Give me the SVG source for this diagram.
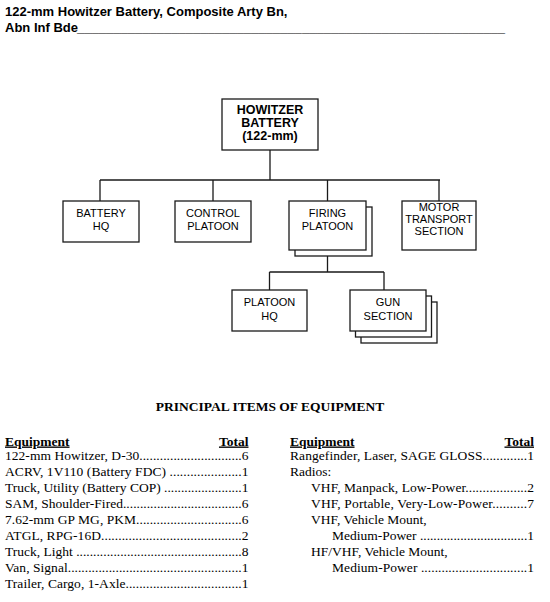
<svg xmlns="http://www.w3.org/2000/svg" width="550" height="602" viewBox="0 0 550 602">
<style>
.box{fill:#fff;stroke:#1a1a1a;stroke-width:1.3}
.ln{fill:none;stroke:#1a1a1a;stroke-width:1.3}
.hd{font-family:"Liberation Sans",Arial,sans-serif;font-weight:bold;font-size:13px;fill:#000}
.bt{font-family:"Liberation Sans",Arial,sans-serif;font-weight:bold;font-size:12.5px;text-anchor:middle;fill:#000}
.nt{font-family:"Liberation Sans",Arial,sans-serif;font-size:11px;text-anchor:middle;fill:#000}
.tt{font-family:"Liberation Serif","Times New Roman",serif;font-weight:bold;font-size:13.5px;fill:#000}
.tb{font-family:"Liberation Serif","Times New Roman",serif;font-size:13.5px;fill:#000}
.ul{text-decoration:underline}
</style>
<g id="heading">
<text class="hd" x="5" y="16">122-mm Howitzer Battery, Composite Arty Bn,</text>
<text class="hd" x="5" y="32">Abn Inf Bde</text>
<text class="hd" x="77" y="32" textLength="428" lengthAdjust="spacingAndGlyphs">___________________________________________________________</text>
</g>
<g id="connectors">
<path class="ln" d="M270 150V180M100 180H440M100 180V201M213 180V201M327.5 180V201M439 180V201M327.5 256V272M269.5 272H384M269.5 272V290M384 272V290"/>
</g>
<g id="n-battery">
<rect class="box" x="222" y="99" width="96" height="51"/>
<text class="bt" x="270" y="114">HOWITZER</text>
<text class="bt" x="270" y="127">BATTERY</text>
<text class="bt" x="270" y="140">(122-mm)</text>
</g>
<g id="n-hq">
<rect class="box" x="63" y="201" width="76" height="41"/>
<text class="nt" x="101" y="217">BATTERY</text>
<text class="nt" x="101" y="230">HQ</text>
</g>
<g id="n-control">
<rect class="box" x="175" y="201" width="76" height="41"/>
<text class="nt" x="213" y="217">CONTROL</text>
<text class="nt" x="213" y="230">PLATOON</text>
</g>
<g id="n-firing">
<rect class="box" x="295" y="207" width="77" height="49"/>
<rect class="box" x="289" y="201" width="77" height="49"/>
<text class="nt" x="327.5" y="217">FIRING</text>
<text class="nt" x="327.5" y="230">PLATOON</text>
</g>
<g id="n-motor">
<rect class="box" x="402" y="201" width="74" height="49"/>
<text class="nt" x="439" y="210.5">MOTOR</text>
<text class="nt" x="439" y="222.5">TRANSPORT</text>
<text class="nt" x="439" y="234.5">SECTION</text>
</g>
<g id="n-plthq">
<rect class="box" x="232" y="290" width="75" height="41"/>
<text class="nt" x="269.5" y="306">PLATOON</text>
<text class="nt" x="269.5" y="320">HQ</text>
</g>
<g id="n-gun">
<rect class="box" x="361" y="302" width="76" height="41"/>
<rect class="box" x="355.5" y="296" width="76" height="41"/>
<rect class="box" x="350" y="290" width="76" height="41"/>
<text class="nt" x="388" y="306">GUN</text>
<text class="nt" x="388" y="320">SECTION</text>
</g>
<g id="equipment">
<text class="tt" x="270" y="411" text-anchor="middle">PRINCIPAL ITEMS OF EQUIPMENT</text>
<text class="tt ul" x="5" y="445.5">Equipment</text>
<text class="tt ul" x="248.5" y="445.5" text-anchor="end">Total</text>
<text class="tt ul" x="290" y="445.5">Equipment</text>
<text class="tt ul" x="534" y="445.5" text-anchor="end">Total</text>
<text class="tb" x="5" y="460" textLength="243.5">122-mm Howitzer, D-30..............................6</text>
<text class="tb" x="5" y="476" textLength="243.5">ACRV, 1V110 (Battery FDC) .....................1</text>
<text class="tb" x="5" y="492" textLength="243.5">Truck, Utility (Battery COP) .......................1</text>
<text class="tb" x="5" y="508" textLength="243.5">SAM, Shoulder-Fired...................................6</text>
<text class="tb" x="5" y="524" textLength="243.5">7.62-mm GP MG, PKM...............................6</text>
<text class="tb" x="5" y="540" textLength="243.5">ATGL, RPG-16D.........................................2</text>
<text class="tb" x="5" y="556" textLength="243.5">Truck, Light .................................................8</text>
<text class="tb" x="5" y="572" textLength="243.5">Van, Signal...................................................1</text>
<text class="tb" x="5" y="588" textLength="243.5">Trailer, Cargo, 1-Axle..................................1</text>
<text class="tb" x="290" y="460" textLength="244">Rangefinder, Laser, SAGE GLOSS.............1</text>
<text class="tb" x="290" y="476">Radios:</text>
<text class="tb" x="311" y="492" textLength="223">VHF, Manpack, Low-Power..................2</text>
<text class="tb" x="311" y="508" textLength="223">VHF, Portable, Very-Low-Power..........7</text>
<text class="tb" x="311" y="524">VHF, Vehicle Mount,</text>
<text class="tb" x="332" y="540" textLength="202">Medium-Power ................................1</text>
<text class="tb" x="311" y="556">HF/VHF, Vehicle Mount,</text>
<text class="tb" x="332" y="572" textLength="202">Medium-Power ...............................1</text>
</g>
</svg>
